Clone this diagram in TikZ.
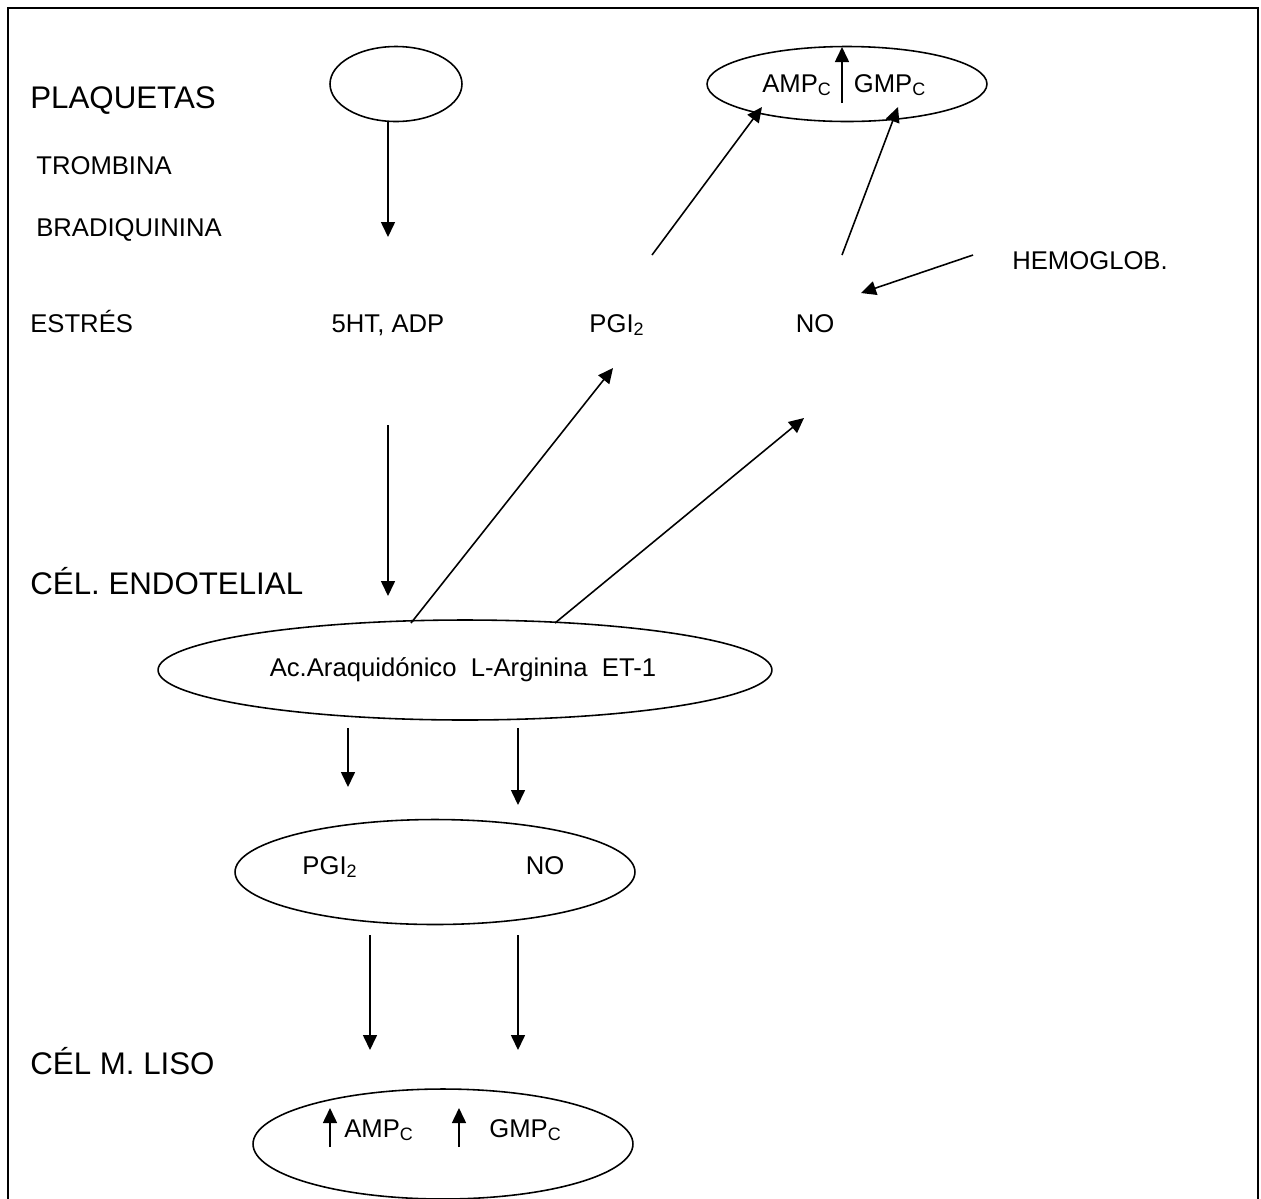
\documentclass[tikz,border=0pt]{standalone}
\usepackage{fontspec}
\setmainfont{Liberation Sans}
\usetikzlibrary{arrows.meta,shapes.geometric}
\tikzset{
  ln/.style={line width=0.9pt},
  arr/.style={ln,-{Triangle[length=3mm,width=2.8mm]}},
  big/.style={font=\fontsize{17.8}{20}\selectfont, inner sep=0pt},
  sm/.style={font=\fontsize{14.6}{17}\selectfont, inner sep=0pt},
  ell/.style={draw, ln, ellipse, inner sep=0pt}
}
\begin{document}
\begin{tikzpicture}[x=0.02cm,y=-0.02cm]
\useasboundingbox (0,0) rectangle (1261,1198);
% frame
\draw[line width=0.8pt] (8,1210) -- (8,8) -- (1258,8) -- (1258,1210);

% left labels
\node[big, anchor=base west] (plaq) at (30,108) {PLAQUETAS};
\node[sm, anchor=base west] (trom) at (36,174) {TROMBINA};
\node[sm, anchor=base west] (brad) at (36,236) {BRADIQUININA};
\node[sm, anchor=base west] (estr) at (30,332) {ESTRÉS};
\node[big, anchor=base west] (endo) at (30,594) {CÉL. ENDOTELIAL};
\node[big, anchor=base west] (liso) at (30,1074) {CÉL M. LISO};

% top ellipses
\node[ell, minimum width=2.64cm, minimum height=1.5cm] (pe) at (396,84) {};
\node[ell, minimum width=5.6cm, minimum height=1.5cm] (te) at (847,84) {};
\node[sm, anchor=base] (tamp) at (797,92) {AMP\textsubscript{C}};
\node[sm, anchor=base] (tgmp) at (890,92) {GMP\textsubscript{C}};
\coordinate (tup0) at (842,103);
\coordinate (tup1) at (842,47);
\draw[arr] (tup0) -- (tup1);

% middle row
\node[sm, anchor=base] (ht) at (388,332) {5HT, ADP};
\node[sm, anchor=base] (pgi) at (617,332) {PGI\textsubscript{2}};
\node[sm, anchor=base] (no) at (815,332) {NO};
\node[sm, anchor=base west] (hemo) at (1012,269) {HEMOGLOB.};

\coordinate (a1e) at (388,237);
\draw[arr] (pe.south -| a1e) -- (a1e);
\coordinate (p0) at (652,255);
\coordinate (p1) at (762,107);
\draw[arr] (p0) -- (p1);
\coordinate (n0) at (842,255);
\coordinate (n1) at (898,107);
\draw[arr] (n0) -- (n1);
\coordinate (h0) at (973,255);
\coordinate (h1) at (861,293);
\draw[arr] (h0) -- (h1);

% endothelial
\coordinate (d0) at (388,425);
\coordinate (d1) at (388,596);
\draw[arr] (d0) -- (d1);
\node[ell, minimum width=12.28cm, minimum height=2cm] (ee) at (465,670) {};
\node[sm, anchor=base] (eet) at (463,676) {Ac.Araquidónico\ \ L-Arginina\ \ ET-1};
\coordinate (e0) at (411,623);
\coordinate (e1) at (613,368);
\draw[arr] (e0) -- (e1);
\coordinate (f0) at (555,623);
\coordinate (f1) at (804,418);
\draw[arr] (f0) -- (f1);

\coordinate (g0) at (348,728);
\coordinate (g1) at (348,787);
\draw[arr] (g0) -- (g1);
\coordinate (k0) at (518,728);
\coordinate (k1) at (518,805);
\draw[arr] (k0) -- (k1);

% PGI2 NO ellipse
\node[ell, minimum width=8cm, minimum height=2.1cm] (me) at (435,872) {};
\node[sm, anchor=base] (mpgi) at (330,874) {PGI\textsubscript{2}};
\node[sm, anchor=base] (mno) at (545,874) {NO};

\coordinate (q0) at (370,935);
\coordinate (q1) at (370,1050);
\draw[arr] (q0) -- (q1);
\coordinate (r0) at (518,935);
\coordinate (r1) at (518,1050);
\draw[arr] (r0) -- (r1);

% bottom ellipse
\node[ell, minimum width=7.6cm, minimum height=2.2cm] (be) at (443,1144) {};
\coordinate (b0) at (330,1147);
\coordinate (b1) at (330,1108);
\draw[arr] (b0) -- (b1);
\node[sm, anchor=base west] (bamp) at (344,1137) {AMP\textsubscript{C}};
\coordinate (c0) at (459,1147);
\coordinate (c1) at (459,1108);
\draw[arr] (c0) -- (c1);
\node[sm, anchor=base west] (bgmp) at (489,1137) {GMP\textsubscript{C}};
\end{tikzpicture}
\end{document}
